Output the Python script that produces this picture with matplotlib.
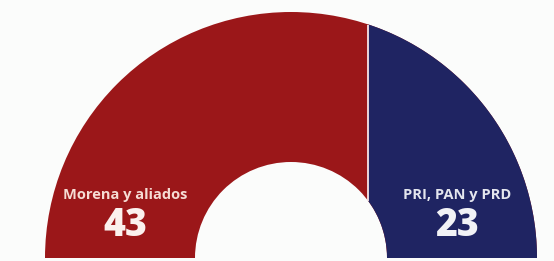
import numpy as np
import matplotlib.pyplot as plt
from matplotlib.patches import Wedge, Polygon

# seats per bloc
groups = ["Morena y aliados", "PRI, PAN y PRD"]
seats = [43, 23]
colors = ["#9b1719", "#1f2462"]
label_colors = ["#f6dcd4", "#e4e6ee"]
number_colors = ["#fbf1ee", "#f1f2f6"]

# half-annulus geometry (pixel units)
cx, cy = 291, 3
R_out, R_in = 246, 96


def right_area(d):
    """Area of the upper half-annulus to the right of x = d."""
    def seg(rad, d):
        if d >= rad:
            return 0.0
        return (rad ** 2 * np.arccos(d / rad) - d * np.sqrt(rad ** 2 - d ** 2)) / 2
    return seg(R_out, d) - seg(R_in, d)


total_area = np.pi / 2 * (R_out ** 2 - R_in ** 2)
target = seats[1] / sum(seats) * total_area
lo, hi = 0.0, float(R_out)
for _ in range(60):
    mid = (lo + hi) / 2
    if right_area(mid) > target:
        lo = mid
    else:
        hi = mid
d = (lo + hi) / 2

fig = plt.figure(figsize=(5.54, 2.61), dpi=100)
fig.patch.set_facecolor("#fbfcfb")
ax = fig.add_axes([0, 0, 1, 1])
ax.set_xlim(0, 554)
ax.set_ylim(0, 261)
ax.axis("off")

# whole half-annulus in the first colour
ax.add_patch(Wedge((cx, cy), R_out, 0, 180, width=R_out - R_in,
                   facecolor=colors[0], edgecolor="none"))

# right part cut by a vertical line
a_out = np.arccos(d / R_out)
a_in = np.arccos(min(d / R_in, 1.0))
t_out = np.linspace(a_out, 0, 100)
t_in = np.linspace(0, a_in, 60)
xs = np.concatenate([cx + R_out * np.cos(t_out), cx + R_in * np.cos(t_in)])
ys = np.concatenate([cy + R_out * np.sin(t_out), cy + R_in * np.sin(t_in)])
ax.add_patch(Polygon(np.column_stack([xs, ys]), closed=True,
                     facecolor=colors[1], edgecolor="none"))

# thin separator
ax.plot([cx + d, cx + d], [cy + R_in * np.sin(a_in), cy + R_out * np.sin(a_out)],
        color="#f4e6ea", lw=1.3, solid_capstyle="butt")

mid_r = (R_out + R_in) / 2 * 0.97
for sign, g, n, lc, nc in zip([-1, 1], groups, seats, label_colors, number_colors):
    x = cx + sign * mid_r
    ax.text(x, 66, g, ha="center", va="center", fontsize=10.5,
            fontfamily="Open Sans", fontweight="bold", color=lc)
    ax.text(x, 35, str(n), ha="center", va="center", fontsize=27,
            fontfamily="Open Sans", fontweight="heavy", color=nc)

fig.savefig("out.png", dpi=100, facecolor=fig.get_facecolor())
